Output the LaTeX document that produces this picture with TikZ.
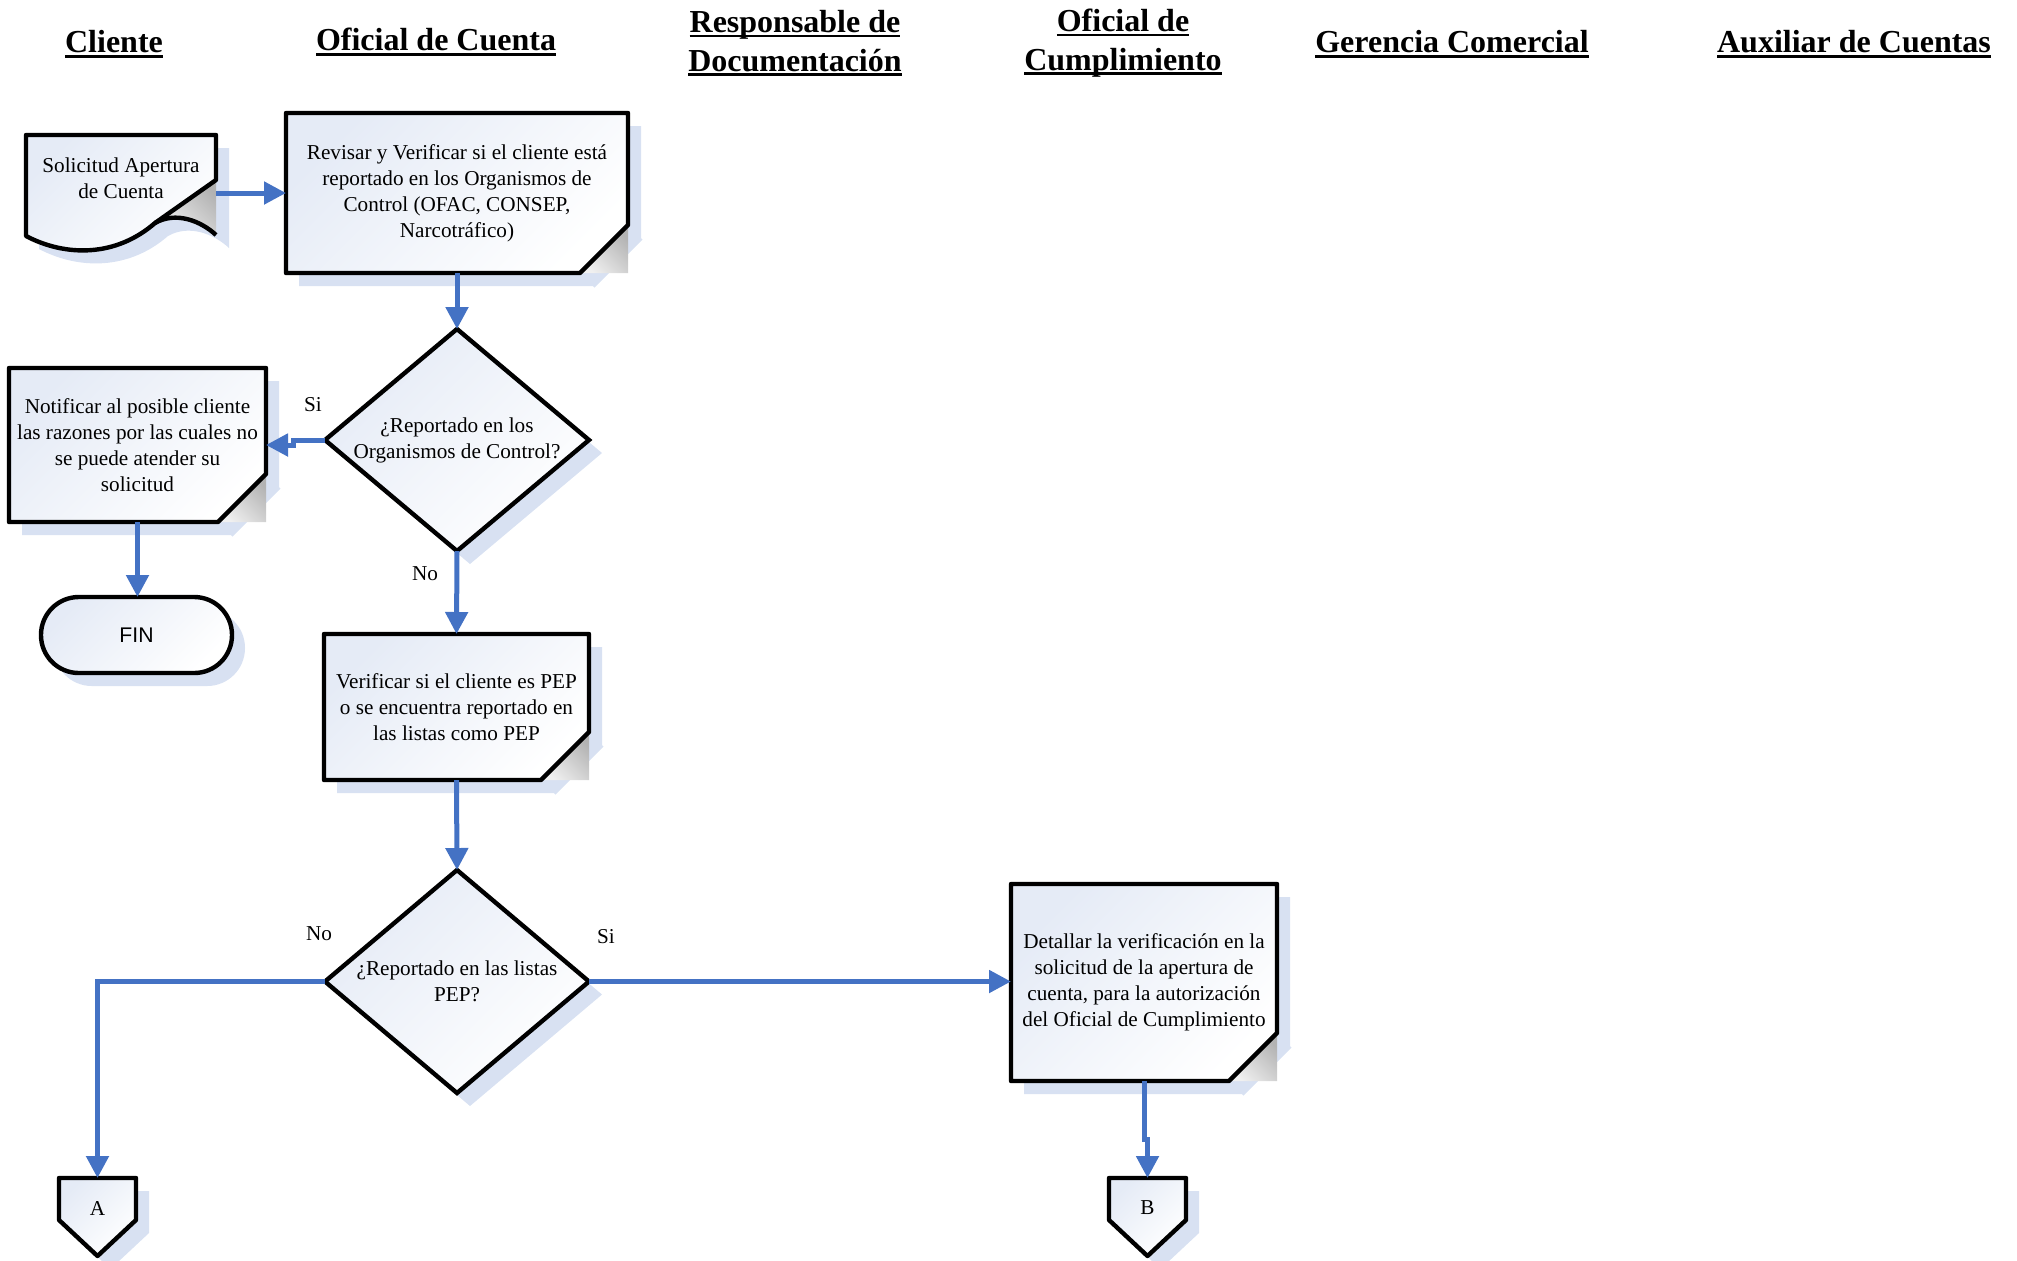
\documentclass[tikz,border=0pt]{standalone}
\usepackage{fontspec}
\setmainfont{Liberation Serif}
\newfontfamily\finfont{Liberation Sans}
\usetikzlibrary{calc,arrows.meta}
\pgfdeclarelayer{bg}
\pgfsetlayers{bg,main}

\definecolor{flowblue}{RGB}{68,114,196}
\definecolor{shadowblue}{RGB}{216,225,242}
\definecolor{fillblue}{RGB}{229,235,246}

% underlined lane title (rule at a fixed depth, crossing descenders)
\newsavebox\hdrbox
\newcommand\hdrline[1]{\sbox\hdrbox{#1}\rlap{\rule[-2.4pt]{\wd\hdrbox}{1.3pt}}\usebox\hdrbox}

\tikzset{
  px/.style={x=0.5pt,y=-0.5pt},
  size/.style 2 args={minimum width=#1*0.5pt,minimum height=#2*0.5pt},
  header/.style={font=\fontsize{16}{19.3}\selectfont\bfseries,align=center,inner sep=0pt},
  body/.style={font=\fontsize{10.6}{13}\selectfont,align=center,inner sep=0pt,outer sep=0pt,rectangle},
  lbl/.style={font=\fontsize{10.6}{13}\selectfont,inner sep=0pt},
  outline/.style={draw=black,line width=2.2pt,line join=round},
  boxshade/.style={top color=fillblue,bottom color=white,shading angle=45},
  foldshade/.style={top color=gray!60,bottom color=gray!12,shading angle=-45},
  shadowline/.style={draw=shadowblue,line width=2.2pt},
  flow/.style={draw=flowblue,line width=2.5pt,-{Triangle[length=11pt,width=11pt]}},
}

% process box with a folded bottom-right corner
\newcommand\foldbox[1]{%
  \begin{pgfonlayer}{bg}
    \path (#1.north west) coordinate (fnw) (#1.north east) coordinate (fne)
          (#1.south east) coordinate (fse) (#1.south west) coordinate (fsw);
    \fill[shadowblue] ($(fnw)+(13,13)$) -- ($(fne)+(13,13)$) -- ($(fse)+(13,-35)$)
          -- ($(fse)+(-35,13)$) -- ($(fsw)+(13,13)$) -- cycle;
    \draw[shadowline] ($(fse)+(13,-35)$) -- ($(fse)+(-35,13)$);
    \path[boxshade] (fnw) -- (fne) -- ($(fse)+(0,-48)$) -- ($(fse)+(-48,0)$) -- (fsw) -- cycle;
    \path[foldshade] ($(fse)+(0,-48)$) -- (fse) -- ($(fse)+(-48,0)$) -- cycle;
    \draw[outline] (fnw) -- (fne) -- ($(fse)+(0,-48)$) -- ($(fse)+(-48,0)$) -- (fsw) -- cycle;
  \end{pgfonlayer}}

% decision diamond spanning the node's box
\newcommand\decision[1]{%
  \begin{pgfonlayer}{bg}
    \fill[shadowblue] ($(#1.north)+(13,13)$) -- ($(#1.east)+(13,13)$)
          -- ($(#1.south)+(13,13)$) -- ($(#1.west)+(13,13)$) -- cycle;
    \draw[outline,boxshade,line join=miter] (#1.north) -- (#1.east) -- (#1.south) -- (#1.west) -- cycle;
  \end{pgfonlayer}}

% off-page connector
\newcommand\offpage[1]{%
  \begin{pgfonlayer}{bg}
    \fill[shadowblue,shift={(#1.north west)}] (13,13) -- (90,13) -- (90,55) -- (51.5,91) -- (13,55) -- cycle;
    \draw[outline,boxshade,shift={(#1.north west)}] (0,0) -- (77,0) -- (77,42) -- (38.5,78) -- (0,42) -- cycle;
  \end{pgfonlayer}}

\begin{document}
\begin{tikzpicture}[px]
\useasboundingbox (0,0) rectangle (2017,1260);

% lane titles
\node[header] (hcli) at (114,44) {\hdrline{Cliente}};
\node[header] (hofc) at (436,42) {\hdrline{Oficial de Cuenta}};
\node[header] (hres) at (795,43) {\hdrline{Responsable de}\\\hdrline{Documentación}};
\node[header] (hcum) at (1123,43) {\hdrline{Oficial de}\\\hdrline{Cumplimiento}};
\node[header] (hger) at (1452,44) {\hdrline{Gerencia Comercial}};
\node[header] (haux) at (1854,44) {\hdrline{Auxiliar de Cuentas}};

% nodes
\node[body,size={190}{86}] (doc) at (121,178) {Solicitud Apertura\\de Cuenta};
\node[body,size={342}{160}] (rev) at (457,193)
  {Revisar y Verificar si el cliente está\\reportado en los Organismos de\\Control (OFAC, CONSEP,\\Narcotráfico)};
\node[body,size={264}{222}] (d1) at (457,440) {¿Reportado en los\\Organismos de Control?};
\node[body,size={257}{154}] (notif) at (137.5,445)
  {Notificar al posible cliente\\las razones por las cuales no\\se puede atender su\\solicitud};
\node[body,size={191}{76},font=\finfont\fontsize{10.6}{13}\selectfont] (fin) at (136.5,635) {FIN};
\node[body,size={265}{146}] (pep) at (456.5,707)
  {Verificar si el cliente es PEP\\o se encuentra reportado en\\las listas como PEP};
\node[body,size={264}{223}] (d2) at (457,981.5) {¿Reportado en las listas\\PEP?};
\node[body,size={266}{197}] (det) at (1144,982.5)
  {Detallar la verificación en la\\solicitud de la apertura de\\cuenta, para la autorización\\del Oficial de Cumplimiento};
\node[body,size={77}{60}] (A) at (97.5,1208) {A};
\node[body,size={77}{60}] (B) at (1147.5,1208) {B};

% branch labels
\node[lbl] (si1) at (313,405) {Si};
\node[lbl] (no1) at (425,574) {No};
\node[lbl] (no2) at (319,934) {No};
\node[lbl] (si2) at (606,937) {Si};

% shapes
\begin{pgfonlayer}{bg}
  % document with wavy bottom and folded corner
  \begin{scope}[shift={(doc.north west)}]
    \fill[shadowblue,shift={(13,13)}] (0,0) -- (190,0) -- (190,100)
      .. controls (175,86) and (150,76) .. (129,88)
      .. controls (90,122) and (40,122) .. (0,101) -- cycle;
    \path[boxshade] (0,0) -- (190,0) -- (190,45) -- (129,88)
      .. controls (90,122) and (40,122) .. (0,101) -- cycle;
    \path[foldshade] (190,45) -- (129,88) .. controls (150,76) and (175,86) .. (190,100) -- cycle;
    \draw[outline] (190,100) .. controls (175,86) and (150,76) .. (129,88);
    \draw[outline] (0,0) -- (190,0) -- (190,45) -- (129,88)
      .. controls (90,122) and (40,122) .. (0,101) -- cycle;
  \end{scope}
  % terminator
  \fill[shadowblue,rounded corners=18.9pt] ($(fin.north west)+(13,13)$) rectangle ($(fin.south east)+(13,13)$);
  \draw[outline,boxshade,rounded corners=18.9pt] (fin.north west) rectangle (fin.south east);
\end{pgfonlayer}
\foldbox{rev}
\foldbox{notif}
\foldbox{pep}
\foldbox{det}
\decision{d1}
\decision{d2}
\offpage{A}
\offpage{B}

% connectors
\draw[flow] (doc.east |- rev.west) -- (rev.west);
\draw[flow] (rev.south) -- (d1.north);
\draw[flow] (d1.west) -- ++(-32,0) |- (notif.east);
\draw[flow] (notif.south) -- (notif.south |- fin.north);
\draw[flow] (d1.south) -- (pep.north);
\draw[flow] (pep.south) -- (d2.north);
\draw[flow] (d2.west) -| (A.north);
\draw[flow] (d2.east) -- (d2.east -| det.west);
\draw[flow] (det.south) -- ++(0,58) -| (B.north);
\end{tikzpicture}
\end{document}
